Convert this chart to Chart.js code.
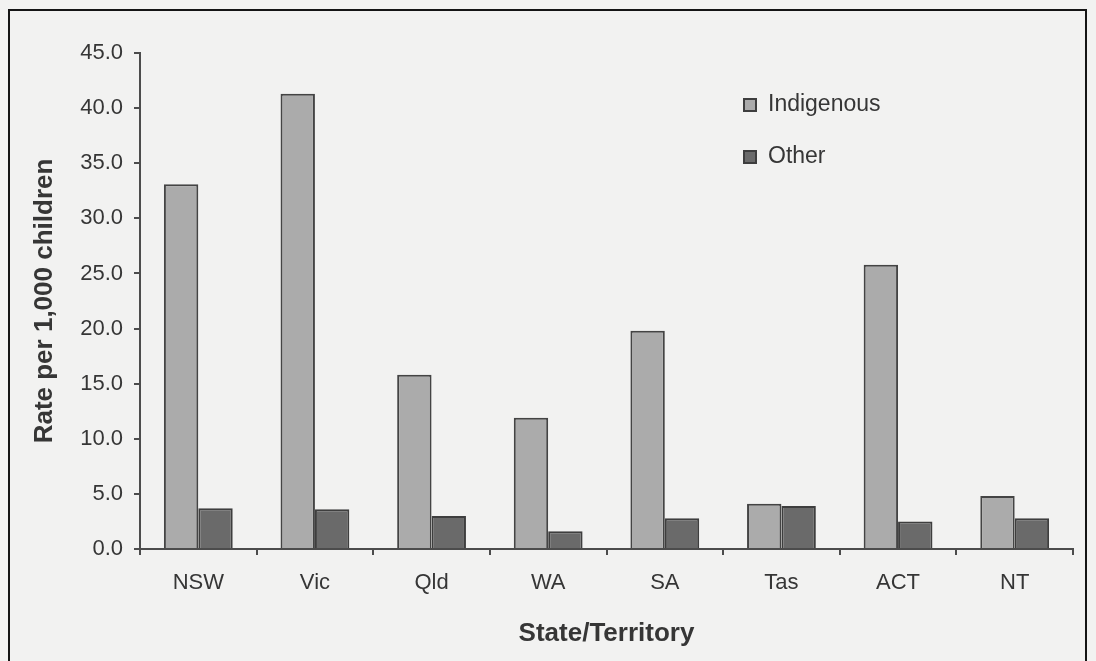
<!DOCTYPE html>
<html>
<head>
<meta charset="utf-8">
<script src="https://cdn.jsdelivr.net/npm/chart.js@4.4.1/dist/chart.umd.min.js"></script>
<style>
  html, body { margin: 0; padding: 0; background: #f2f2f1; overflow: hidden; }
  #frame {
    position: absolute; left: 8px; top: 9px; width: 1075px; height: 720px;
    border: 2px solid #151515;
  }
  #wrap { position: absolute; left: 0; top: 0; width: 1096px; height: 661px; }
</style>
</head>
<body>
<div id="frame"></div>
<div id="wrap"><canvas id="chart" width="1096" height="661"></canvas></div>
<script>
// Child protection rates by state/territory, per 1,000 children
const categories = ['NSW', 'Vic', 'Qld', 'WA', 'SA', 'Tas', 'ACT', 'NT'];
const indigenous = [33.1, 41.3, 15.8, 11.9, 19.8, 4.1, 25.8, 4.8];
const other = [3.7, 3.6, 3.0, 1.6, 2.8, 3.9, 2.5, 2.8];
const seriesNames = ['Indigenous', 'Other'];
const yTicks = [0, 5, 10, 15, 20, 25, 30, 35, 40, 45];

const inkColor = '#363636';
const axisColor = '#4c4c4c';
const fontFamily = '"Liberation Sans", Arial, sans-serif';

// Legend drawn inside the plot area as a small stacked key
const insideLegend = {
  id: 'insideLegend',
  afterDraw(chart) {
    const ctx = chart.ctx;
    const x = 743, rows = [105, 157], box = 14;
    ctx.save();
    chart.data.datasets.forEach((ds, i) => {
      const y = rows[i];
      ctx.fillStyle = ds.backgroundColor;
      ctx.strokeStyle = '#3e3e3e';
      ctx.lineWidth = 2;
      ctx.fillRect(x, y - box / 2, box, box);
      ctx.strokeRect(x + 1, y - box / 2 + 1, box - 2, box - 2);
      ctx.fillStyle = inkColor;
      ctx.font = '23px ' + fontFamily;
      ctx.textBaseline = 'middle';
      ctx.textAlign = 'left';
      ctx.fillText(ds.label, x + 25, y);
    });
    ctx.restore();
  }
};

new Chart(document.getElementById('chart'), {
  type: 'bar',
  data: {
    labels: categories,
    datasets: [
      {
        label: seriesNames[0],
        data: indigenous,
        backgroundColor: '#ababab',
        borderColor: '#444444',
        borderWidth: 2,
        barPercentage: 1.0,
        categoryPercentage: 0.59
      },
      {
        label: seriesNames[1],
        data: other,
        backgroundColor: '#6a6a6a',
        borderColor: '#3e3e3e',
        borderWidth: 2,
        barPercentage: 1.0,
        categoryPercentage: 0.59
      }
    ]
  },
  options: {
    responsive: false,
    animation: false,
    layout: { padding: { top: 53, right: 23, left: 0, bottom: 0 } },
    plugins: {
      legend: { display: false },
      tooltip: { enabled: false }
    },
    scales: {
      x: {
        afterFit(scale) { scale.height = 112; },
        grid: {
          offset: true,
          drawOnChartArea: false,
          drawTicks: true,
          tickLength: 6,
          color: axisColor,
          lineWidth: 2
        },
        border: { display: true, color: axisColor, width: 2 },
        ticks: {
          color: inkColor,
          padding: 15,
          font: { family: fontFamily, size: 22 }
        },
        title: {
          display: true,
          text: 'State/Territory',
          color: inkColor,
          padding: { top: 0, bottom: 12 },
          font: { family: fontFamily, size: 26, weight: 'bold' }
        }
      },
      y: {
        min: 0,
        max: 45,
        afterFit(scale) { scale.width = 140; },
        afterBuildTicks(scale) { scale.ticks = yTicks.map(v => ({ value: v })); },
        grid: {
          drawOnChartArea: false,
          drawTicks: true,
          tickLength: 6,
          color: axisColor,
          lineWidth: 2
        },
        border: { display: true, color: axisColor, width: 2 },
        ticks: {
          color: inkColor,
          padding: 11,
          callback: v => Number(v).toFixed(1),
          font: { family: fontFamily, size: 22 }
        },
        title: {
          display: true,
          text: 'Rate per 1,000 children',
          color: inkColor,
          padding: { top: 29, bottom: 0 },
          font: { family: fontFamily, size: 26, weight: 'bold' }
        }
      }
    }
  },
  plugins: [insideLegend]
});
</script>
</body>
</html>
